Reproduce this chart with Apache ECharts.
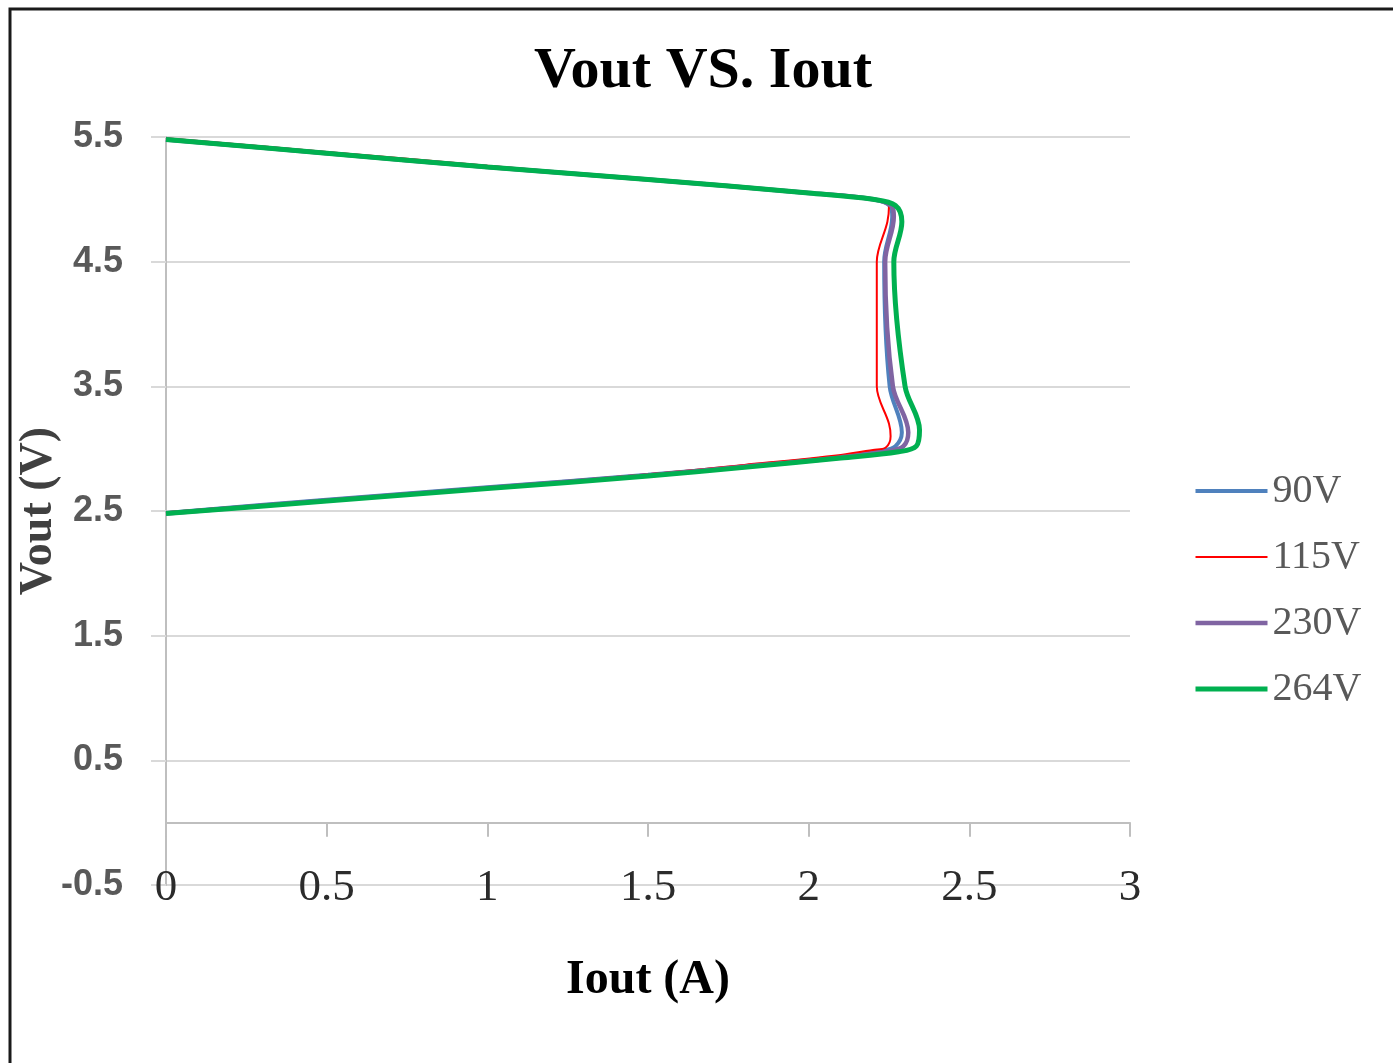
<!DOCTYPE html>
<html>
<head>
<meta charset="utf-8">
<title>Vout VS. Iout</title>
<script src="https://cdn.jsdelivr.net/npm/echarts@6/dist/echarts.min.js"></script>
<style>
  html, body { margin: 0; padding: 0; background: #fff; }
  #chart { width: 1393px; height: 1063px; }
</style>
</head>
<body>
<div id="chart"></div>
<script>
// Output voltage vs. output current, one curve per AC input voltage: [Iout (A), Vout (V)]
const seriesNames = ['90V', '115V', '230V', '264V'];

const curve90V = [
  [0, 5.48], [0.5, 5.37], [1.0, 5.26], [1.5, 5.16], [2.0, 5.05], [2.2, 5.0],
  [2.255, 4.94], [2.26, 4.86], [2.235, 4.5], [2.252, 3.5], [2.29, 3.13],
  [2.27, 3.02], [2.23, 2.985], [2.1, 2.935], [1.8, 2.86], [1.5, 2.79],
  [1.0, 2.69], [0.5, 2.59], [0, 2.485]
];
const curve115V = [
  [0, 5.49], [0.5, 5.38], [1.0, 5.27], [1.5, 5.16], [2.0, 5.05], [2.2, 5.0],
  [2.25, 4.95], [2.245, 4.82], [2.212, 4.5], [2.212, 3.5], [2.25, 3.2],
  [2.255, 3.1], [2.24, 3.01], [2.2, 2.99], [2.1, 2.95], [1.8, 2.87],
  [1.5, 2.795], [1.0, 2.69], [0.5, 2.59], [0, 2.49]
];
const curve230V = [
  [0, 5.48], [0.5, 5.37], [1.0, 5.26], [1.5, 5.16], [2.0, 5.05], [2.2, 5.0],
  [2.26, 4.94], [2.265, 4.86], [2.238, 4.5], [2.262, 3.5], [2.31, 3.13],
  [2.295, 3.02], [2.25, 2.98], [2.1, 2.93], [1.8, 2.855], [1.5, 2.785],
  [1.0, 2.685], [0.5, 2.585], [0, 2.48]
];
const curve264V = [
  [0, 5.48], [0.5, 5.37], [1.0, 5.26], [1.5, 5.16], [2.0, 5.05], [2.2, 5.0],
  [2.27, 4.95], [2.29, 4.82], [2.265, 4.5], [2.3, 3.5], [2.345, 3.15],
  [2.335, 3.02], [2.28, 2.975], [2.1, 2.925], [1.8, 2.85], [1.5, 2.78],
  [1.0, 2.68], [0.5, 2.58], [0, 2.48]
];

const curves = [curve90V, curve115V, curve230V, curve264V];
const lineColors = ['#4F81BD', '#FF0000', '#8064A2', '#00B050'];
const lineWidths = [4, 2, 4.5, 5];

const chart = echarts.init(document.getElementById('chart'), null, { renderer: 'canvas' });

const option = {
  animation: false,
  backgroundColor: '#fff',
  graphic: [{
    type: 'rect',
    shape: { x: 10, y: 9, width: 1500, height: 1200 },
    style: { fill: 'none', stroke: '#1a1a1a', lineWidth: 3 },
    silent: true
  }],
  title: {
    text: 'Vout VS. Iout',
    left: 698,
    textAlign: 'center',
    top: 38,
    textStyle: {
      fontFamily: 'Liberation Serif',
      fontWeight: 'bold',
      fontSize: 58,
      color: '#000'
    }
  },
  legend: {
    orient: 'vertical',
    left: 1188,
    top: 466,
    itemWidth: 72,
    itemHeight: 14,
    itemGap: 26,
    selectedMode: false,
    textStyle: {
      fontFamily: 'Liberation Serif',
      fontSize: 40,
      lineHeight: 40,
      color: '#595959'
    },
    itemStyle: { color: 'rgba(0,0,0,0)', borderWidth: 0 },
    lineStyle: { width: 'inherit' },
    data: seriesNames
  },
  grid: {
    left: 166,
    right: 263,
    top: 137,
    bottom: 178,
    outerBoundsMode: 'none',
    containLabel: false
  },
  xAxis: {
    type: 'value',
    min: 0,
    max: 3,
    interval: 0.5,
    name: 'Iout (A)',
    nameLocation: 'middle',
    nameGap: 72,
    nameTextStyle: {
      fontFamily: 'Liberation Serif',
      fontWeight: 'bold',
      fontSize: 48,
      color: '#000'
    },
    axisLine: { onZero: true, lineStyle: { color: '#BFBFBF', width: 2 } },
    axisTick: { show: true, inside: false, length: 14, lineStyle: { color: '#BFBFBF', width: 2 } },
    axisLabel: {
      margin: -19,
      fontFamily: 'Liberation Serif',
      fontSize: 45,
      color: '#2b2b2b',
      formatter: v => String(v)
    },
    splitLine: { show: false }
  },
  yAxis: {
    type: 'value',
    min: -0.5,
    max: 5.5,
    interval: 1,
    name: 'Vout (V)',
    nameLocation: 'middle',
    nameRotate: 90,
    nameGap: 104,
    nameMoveOverlap: false,
    nameTextStyle: {
      fontFamily: 'Liberation Serif',
      fontWeight: 'bold',
      fontSize: 46,
      color: '#404040'
    },
    axisLine: { show: true, lineStyle: { color: '#BFBFBF', width: 2 } },
    axisTick: { show: true, inside: false, length: 15, lineStyle: { color: '#D9D9D9', width: 2 } },
    axisLabel: {
      margin: 43,
      fontFamily: 'Liberation Sans',
      fontWeight: 'bold',
      fontSize: 36,
      color: '#595959',
      formatter: v => v.toFixed(1)
    },
    splitLine: { show: true, lineStyle: { color: '#D9D9D9', width: 2 } }
  },
  series: seriesNames.map((n, i) => ({
    name: n,
    type: 'line',
    data: curves[i],
    smooth: 0.35,
    symbol: 'none',
    showSymbol: false,
    clip: false,
    color: lineColors[i],
    lineStyle: { color: lineColors[i], width: lineWidths[i] },
    itemStyle: { color: lineColors[i] },
    z: 2 + i
  }))
};

chart.setOption(option);
</script>
</body>
</html>
